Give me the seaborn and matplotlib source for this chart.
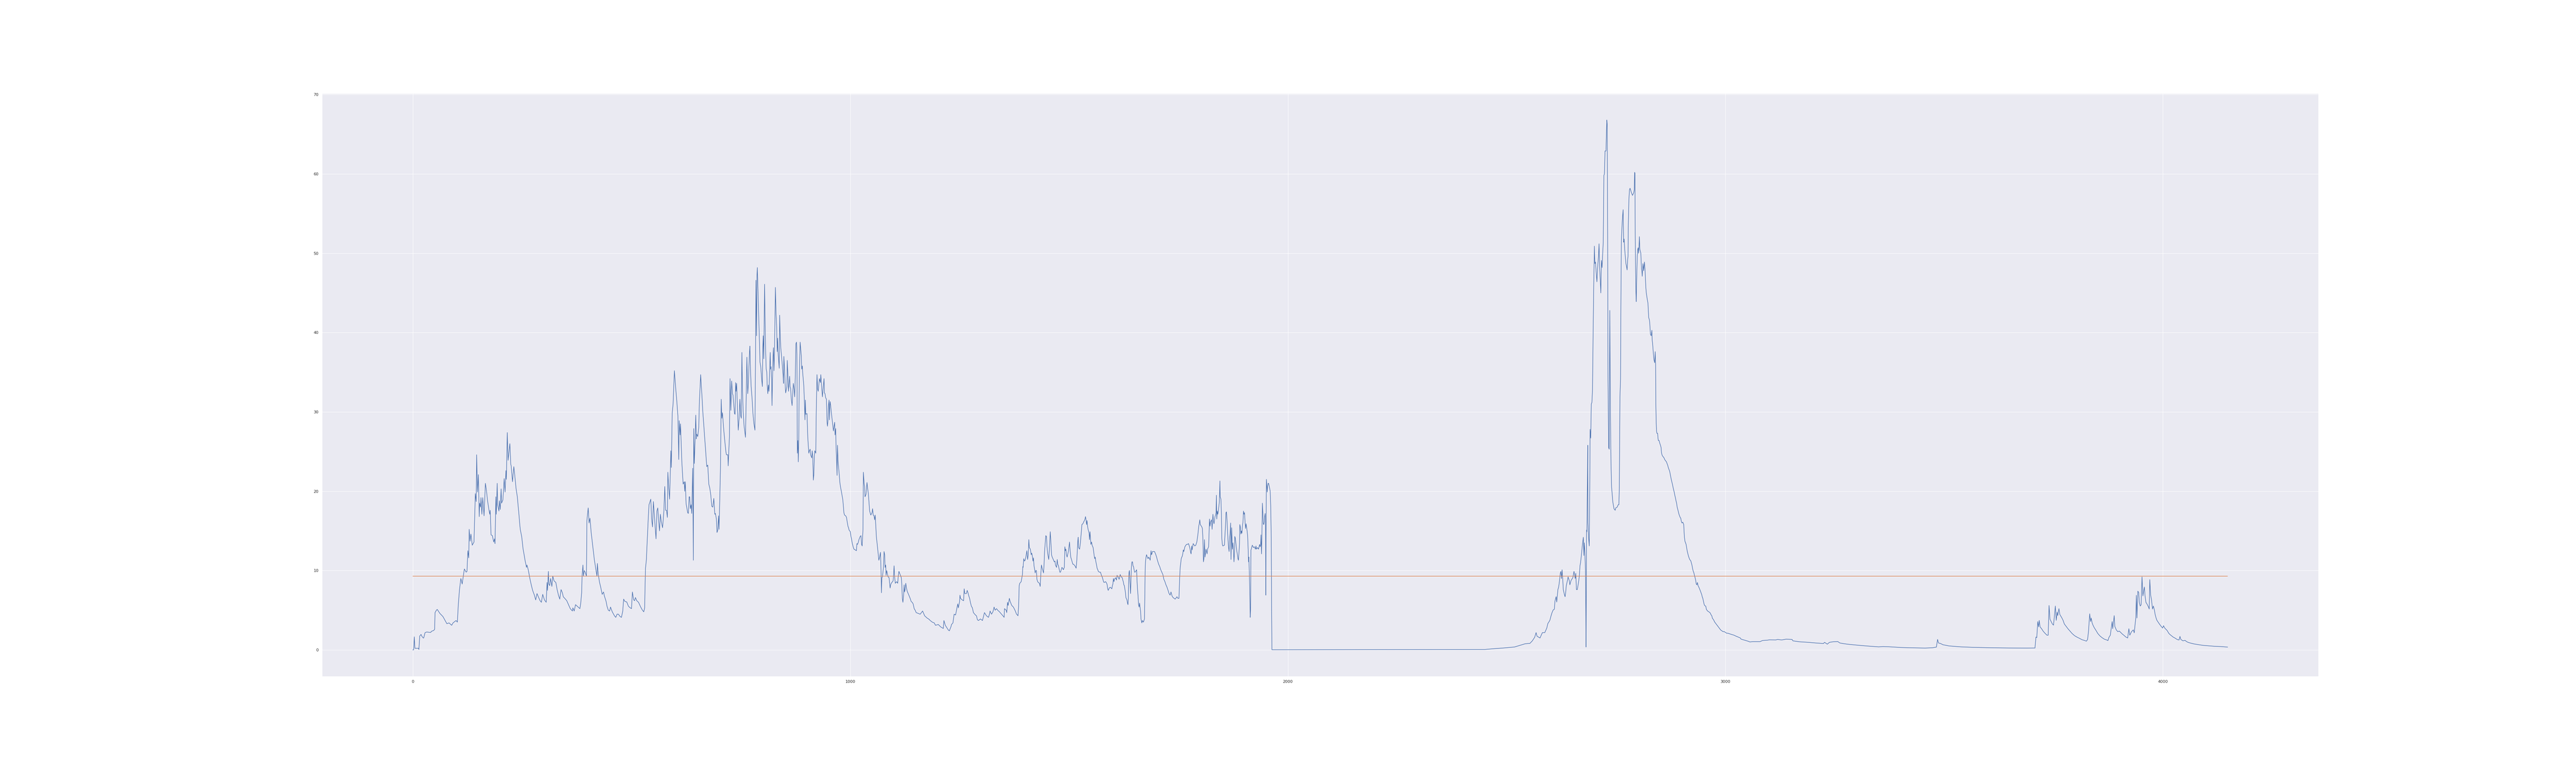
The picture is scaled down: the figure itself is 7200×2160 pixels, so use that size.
import pandas as pd
import seaborn as sns
import matplotlib.pyplot as plt


# Series, split into stretches (index, value)
first_wave = [
    (0, 0.0), (2, 0.0), (3.5, 1.65), (5, 0.2), (13, 0.2), (14, 0.05), (16, 1.75), (19, 1.95),
    (21, 1.7), (24, 1.5), (25, 1.5), (28, 2.15), (29, 2.2), (32, 2.25), (41, 2.2), (43, 2.35),
    (48, 2.45), (50, 2.6), (51, 4.7), (54, 5.0), (56, 5.1), (62, 4.6), (69, 4.2), (73, 3.8),
    (78, 3.3), (83, 3.4), (89, 3.1), (92, 3.4), (99, 3.7), (102, 3.5), (104, 5.6), (107, 7.7),
    (110, 9.0), (113, 8.3), (115, 9.1), (118, 10.2), (122, 9.8), (124, 9.9), (126, 12.5),
    (128, 11.6), (129, 15.2), (131, 13.7), (133, 14.6), (136, 13.2), (140, 13.6), (143, 19.7),
    (145, 18.7), (146, 24.6), (148, 19.9), (150, 22.1), (152, 16.8), (153, 18.5), (155, 18.0),
    (156, 19.2), (158, 17.1), (160, 19.2), (163, 16.9), (166, 21.0), (168, 20.3), (171, 18.8),
    (174, 17.7), (176, 17.1), (177, 17.6), (179, 14.5), (182, 14.4), (185, 13.6), (187, 14.0),
    (188, 13.4), (190, 19.3), (191, 17.1), (193, 21.0), (194, 18.3), (197, 17.5), (198, 18.8),
    (200, 17.7), (202, 20.3), (203, 18.5), (206, 18.9), (209, 21.6), (211, 19.9), (213, 22.6),
    (214, 21.5), (216, 27.4), (218, 23.9), (220, 25.0), (222, 26.0), (224, 23.4), (225, 23.2),
    (228, 21.2), (231, 23.1), (233, 22.1), (236, 20.4), (239, 19.3), (242, 17.5), (245, 15.6),
    (246, 15.1), (249, 14.3), (252, 12.8), (257, 11.2), (260, 10.4), (261, 10.7), (264, 10.1),
    (267, 9.2), (270, 8.4), (274, 7.5), (278, 6.9), (281, 6.3), (284, 7.1), (287, 6.7),
    (291, 6.2), (294, 6.0), (297, 7.0), (301, 6.3), (305, 6.0), (307, 8.5), (308, 7.5),
    (310, 9.9), (311, 8.3), (313, 8.1), (315, 9.0), (318, 8.0), (320, 9.3), (323, 8.7),
    (327, 8.5), (330, 7.6), (333, 6.9), (336, 6.4), (339, 7.6), (342, 7.2), (344, 6.7),
    (349, 6.4), (352, 6.2), (356, 5.7), (360, 5.2), (365, 4.9), (366, 5.3), (369, 4.9),
    (372, 5.7), (376, 5.5), (382, 5.2), (384, 5.9), (386, 7.2), (387, 9.3), (389, 10.7),
    (390, 9.3), (392, 10.0), (394, 9.8), (397, 9.3), (398, 16.3), (400, 17.4), (401, 17.9),
    (403, 16.0), (405, 16.6), (408, 14.7), (411, 13.3), (415, 11.4), (418, 10.3), (421, 9.3),
    (422, 10.9), (424, 9.5), (427, 8.5), (430, 7.8), (433, 7.0), (436, 7.3), (438, 6.8),
    (442, 6.1), (444, 5.5), (447, 5.0), (450, 4.9), (452, 5.4), (456, 4.8), (461, 4.3),
    (464, 4.1), (467, 4.5), (470, 4.5), (474, 4.2), (477, 4.1), (480, 4.9), (482, 6.4),
    (485, 6.1), (489, 6.05), (493, 5.5), (497, 5.3), (500, 5.2), (502, 7.3), (505, 6.3),
    (507, 6.2), (509, 6.6), (512, 6.2), (516, 6.0), (521, 5.4), (525, 5.0), (528, 4.8),
    (530, 5.3), (531, 8.0), (532, 10.3), (534, 11.4), (536, 13.8), (538, 16.3), (540, 18.3),
    (544, 19.0), (546, 16.5), (548, 15.5), (550, 18.7), (553, 16.3), (556, 14.0), (558, 17.5),
    (560, 17.9), (562, 16.3), (564, 15.0), (566, 17.1), (568, 16.2), (571, 15.4), (574, 17.5),
    (576, 20.6), (578, 17.6), (580, 17.6), (582, 16.7), (583, 22.4), (585, 20.5), (587, 19.0),
    (590, 25.1), (591, 23.0), (593, 29.8),
]

second_wave = [
    (595, 31.0), (598, 35.2), (601, 33.0), (604, 31.0), (606, 29.5), (608, 24.0), (609, 28.9),
    (611, 27.1), (612, 28.5), (615, 23.7), (617, 21.8), (618, 20.9), (620.6, 21.2),
    (621.6, 20.0), (622.9, 21.2), (624.8, 18.4), (628.4, 17.3), (629.8, 17.2), (631.7, 19.3),
    (633, 19.3), (634.4, 17.8), (636.2, 18.3), (637.6, 17.2), (639.9, 22.9), (641.3, 11.3),
    (642.2, 27.9), (643.6, 23.5), (645.4, 26.6), (646.8, 29.6), (648.2, 26.6), (649.1, 27.2),
    (651.4, 26.9), (653.7, 28.1), (655, 31.0), (658, 34.7), (661, 32.0), (663, 30.0),
    (667.4, 26.6), (672, 23.1), (674.3, 23.3), (676.6, 20.9), (678.9, 20.4), (681.2, 19.5),
    (683.5, 18.1), (685.8, 18.0), (688.1, 19.1), (690.4, 17.1),
    (691.7, 17.2), (694.0, 16.5), (695.4, 14.8), (697.2, 15.1), (699.0, 16.9), (700.0, 15.2),
    (701.8, 19.1), (703.2, 22.7), (705.0, 31.6), (706.4, 29.2), (707.8, 29.9), (709.1, 29.0),
    (711.0, 27.6), (713.3, 26.3), (715.6, 25.0), (717.0, 24.6), (720.2, 24.6), (721.0, 23.2),
    (722.5, 25.3), (723.8, 26.9), (725.2, 34.2), (727.0, 30.2), (728.9, 33.9), (730.7, 32.3),
    (732.0, 32.1), (735.3, 29.8), (736.7, 29.7), (738.0, 33.7), (739.0, 32.6), (740.3, 33.6),
    (742.2, 30.2), (744.0, 27.7), (745.9, 29.2), (747.7, 31.6), (749.5, 29.5), (750.9, 29.2),
    (752.3, 37.5), (753.7, 32.6), (755.0, 30.3), (757.3, 28.2), (759.6, 27.2), (760.5, 26.8),
    (762.8, 34.1), (763.7, 36.9), (765.6, 32.3), (767.4, 33.9), (768.3, 35.7), (769.7, 37.6),
    (770.6, 38.3), (772.0, 35.2), (773.4, 33.2), (775.7, 31.6), (777.5, 29.8), (779.8, 28.5),
    (782.1, 27.7), (783.5, 37.3), (784.4, 46.6), (785.8, 39.6), (786.7, 47.2), (787.6, 48.2),
    (789.0, 45.4), (791.7, 40.2), (793.6, 36.3), (795.4, 35.7), (797.3, 34.2), (799.1, 33.2),
    (800.0, 38.0), (801.0, 39.6), (802.3, 36.7), (804.1, 46.1), (805.5, 40.9), (806.4, 38.0),
    (807.8, 35.4), (809.2, 35.0), (810.1, 33.4), (811.5, 32.3), (812.9, 33.4), (814.2, 32.6),
    (817.0, 37.5), (817.9, 35.4), (818.8, 35.7), (820.2, 34.1), (821.1, 30.8), (823.4, 37.0),
    (824.3, 38.1), (825.7, 35.2), (826.6, 37.3), (828.9, 45.7), (830.3, 42.5), (831.7, 40.7),
    (833.0, 37.6), (834.0, 39.3), (834.9, 37.5), (837.6, 35.5), (838.6, 42.2), (840.0, 39.4),
    (841.3, 38.0), (844.5, 36.0), (846.4, 34.7), (847.3, 33.6), (848.2, 37.0), (849.6, 35.5),
    (851.0, 33.6), (852.3, 32.4), (855.1, 33.2), (856.0, 36.5), (857.4, 34.7), (858.7, 32.6),
    (861.5, 34.5), (862.4, 33.2), (863.8, 32.9), (865.2, 31.6), (867.0, 30.8), (869.8, 33.6),
    (871.6, 32.9), (873.0, 31.9), (874.4, 34.7), (875.7, 38.6), (877.1, 38.8), (878.0, 37.3),
    (879.0, 24.8), (880.3, 26.4), (881.2, 23.7), (882.2, 26.4), (883.1, 32.4), (884.5, 36.7),
    (885.4, 38.8), (888.1, 37.1), (889.0, 35.4), (890.4, 35.8), (891.3, 34.9), (893.6, 33.4),
    (895.0, 31.6), (896.4, 29.0), (897.3, 31.5), (898.2, 29.7), (901.0, 29.8), (902.8, 26.9),
    (905.1, 24.8), (906.5, 25.1), (908.3, 25.3), (909.2, 24.6), (912.0, 24.2), (912.9, 25.1),
    (914.3, 24.3), (915.6, 21.4), (916.6, 22.0), (918.0, 24.5), (918.9, 25.1), (921.2, 24.8),
    (922.1, 29.5), (923.9, 34.7), (925.3, 32.9), (926.7, 32.6), (929.4, 34.2), (931.7, 33.7),
    (932.6, 34.7), (935.0, 32.9), (936.3, 31.9), (937.7, 32.8), (940.0, 34.2), (940.9, 32.4),
    (942.3, 32.3), (943.6, 31.8), (945.5, 31.6), (946.9, 28.7), (947.8, 28.2), (949.2, 29.0),
    (950.1, 30.8), (951.5, 31.5), (952.4, 29.0), (953.3, 30.8), (954.2, 31.3), (957.0, 29.8),
    (958.8, 28.9), (960.2, 28.2), (961.5, 27.6), (962.9, 28.2), (964.3, 28.7), (965.2, 27.1),
    (966.6, 27.9), (967.5, 25.5), (968.9, 23.7), (969.8, 22.0), (970.7, 25.8), (972.1, 23.8),
    (974.9, 22.0), (976.2, 21.1), (978.1, 20.4), (979.9, 19.9), (982.7, 19.0), (984.0, 18.3),
    (985.4, 17.3), (986.8, 17.0), (989.5, 16.9), (991.4, 16.7), (992.8, 16.2), (994.6, 15.6),
    (996.0, 15.4), (997.3, 15.1), (1000.1, 14.9), (1001.5, 14.3), (1002.8, 14.0),
    (1004.7, 13.4), (1006.5, 13.0), (1008.4, 12.7), (1011.6, 12.6), (1013.9, 12.5),
    (1015.2, 13.4), (1016.6, 13.3), (1018.5, 13.6), (1019.8, 13.9), (1022.6, 14.3),
    (1024.4, 14.4), (1025.8, 13.3), (1027.2, 13.1), (1029.0, 15.2), (1029.9, 22.4),
    (1030.8, 21.7), (1031.8, 20.9), (1032.7, 20.6), (1033.6, 19.3), (1035.9, 19.6),
    (1038.2, 21.1), (1039.6, 20.4), (1041.4, 19.6), (1042.8, 18.6), (1044.2, 17.5),
    (1046.9, 17.0), (1049.7, 17.3), (1051.0, 17.8), (1052.4, 17.0), (1054.3, 16.9),
    (1055.6, 16.4), (1057.0, 17.0), (1059.8, 14.1), (1061.6, 13.3), (1063.4, 12.3),
    (1065.3, 11.3), (1067.1, 11.7), (1069.0, 12.3), (1070.3, 10.0), (1071.2, 7.2),
    (1072.2, 9.1), (1073.5, 9.2), (1075.8, 10.4), (1077.2, 12.4), (1078.6, 12.0),
    (1079.5, 10.4), (1080.9, 10.7), (1081.8, 9.4), (1083.2, 10.0), (1086.4, 9.2),
    (1088.7, 9.1), (1091.0, 7.8), (1092.3, 8.2), (1093.7, 8.4), (1097.9, 8.7), (1099.2, 9.7),
    (1100.1, 10.6), (1101.5, 9.1), (1102.9, 8.4), (1106.1, 8.6), (1108.4, 8.4), (1109.8, 9.4),
    (1111.2, 9.9), (1113.9, 9.5), (1116.7, 9.1), (1117.6, 8.4), (1119.0, 6.5), (1120.3, 6.0),
    (1121.7, 6.8), (1123.1, 8.2), (1124.0, 7.3), (1125.4, 7.6), (1126.8, 8.4), (1128.1, 7.9),
    (1130.0, 7.4), (1132.3, 7.1), (1134.6, 6.8), (1136.8, 6.5), (1139.2, 6.1), (1141.4, 6.0),
    (1143.7, 5.8), (1146.0, 5.2), (1148.3, 5.0), (1150.6, 4.7), (1155.2, 4.6), (1159.8, 4.5),
    (1165.3, 4.9), (1169.9, 4.3), (1175.8, 4.0), (1179.0, 3.9), (1182.8, 3.7), (1187.3, 3.5),
    (1191.9, 3.4), (1194.7, 3.1), (1201.1, 3.2), (1206.6, 2.9), (1212.6, 2.7), (1214.0, 3.7),
    (1217.2, 3.1), (1221.8, 2.7), (1224.1, 2.5), (1226.4, 2.4), (1230.0, 2.9), (1231.4, 3.2),
    (1234.6, 3.4), (1237.4, 4.5), (1240.6, 4.4), (1245.6, 5.8), (1247.0, 5.3), (1249.8, 6.1),
    (1250.7, 6.9), (1252.0, 6.5), (1255.7, 6.3), (1259.0, 6.2), (1260.3, 7.7), (1261.7, 7.1),
    (1265.4, 7.1), (1267.2, 7.5), (1269.0, 7.2), (1270.9, 6.8), (1272.7, 6.5), (1274.5, 6.0),
    (1276.8, 5.5), (1279.1, 5.3), (1281.4, 4.7), (1286.0, 4.4), (1288.3, 4.3), (1290.6, 3.8),
    (1292.9, 3.7), (1297.5, 3.9), (1302.1, 3.7), (1306.7, 4.7), (1309.0, 4.5), (1311.2, 4.3),
    (1315.8, 4.1), (1318.1, 4.5), (1319.5, 4.9), (1322.8, 4.5), (1326.0, 4.8), (1328.7, 5.4),
    (1331.0, 5.0), (1334.2, 5.2), (1337.0, 5.0), (1341.0, 4.8), (1345.7, 4.5), (1350.3, 4.2),
    (1351.6, 4.1), (1352.5, 5.2), (1356.2, 5.0), (1357.6, 4.7), (1359.4, 6.0), (1360.8, 5.6),
    (1363.6, 6.5), (1365.4, 6.1), (1369.1, 5.6), (1372.7, 5.4), (1376.4, 5.0), (1380.0, 4.5),
    (1381.9, 4.4), (1383.3, 4.3), (1384.7, 5.5), (1386.0, 8.1), (1387.4, 8.4), (1390.6, 8.6),
    (1393.4, 9.5), (1394.3, 10.5),
]

third_wave = [
    (1395.0, 10.4), (1396.5, 11.5), (1398.1, 11.2), (1399.7, 11.3), (1401.2, 11.7),
    (1403.6, 12.5), (1405.2, 11.4), (1406.8, 12.0), (1408.0, 13.9), (1409.2, 12.9),
    (1411.5, 12.7), (1413.5, 12.0), (1414.7, 12.2), (1415.9, 11.9), (1417.5, 11.2),
    (1418.7, 11.6), (1419.9, 10.6), (1421.5, 10.1), (1422.6, 9.7), (1423.8, 10.0),
    (1425.4, 10.0), (1426.6, 8.9), (1428.2, 8.6), (1429.8, 8.5), (1432.2, 8.4), (1434.1, 8.0),
    (1435.7, 9.8), (1436.9, 10.7), (1438.5, 10.3), (1441.7, 9.7), (1442.9, 10.8),
    (1444.0, 12.4), (1445.6, 13.5), (1446.8, 14.4), (1448.4, 14.3), (1449.6, 13.0),
    (1451.2, 12.1), (1453.6, 11.4), (1454.7, 12.4), (1457.1, 14.9), (1458.3, 13.8),
    (1459.9, 12.0), (1461.5, 11.7), (1464.7, 11.3), (1466.2, 11.1), (1467.8, 11.2),
    (1469.0, 10.7), (1471.4, 10.4), (1473.0, 11.4), (1474.2, 10.8), (1475.8, 10.6),
    (1477.3, 10.2), (1478.9, 9.8), (1480.5, 9.8), (1483.7, 10.4), (1485.3, 10.3),
    (1486.9, 10.1), (1489.2, 10.4), (1490.4, 13.0), (1491.6, 12.5), (1492.8, 12.7),
    (1494.0, 12.0), (1495.6, 11.7), (1497.2, 12.1), (1498.7, 12.5), (1501.1, 13.6),
    (1502.3, 12.6), (1503.9, 11.7), (1505.5, 11.4), (1507.1, 11.1), (1508.7, 10.8),
    (1510.2, 10.8), (1513.4, 10.6), (1516.2, 10.3), (1517.8, 11.4), (1519.0, 12.6),
    (1520.1, 13.8), (1520.9, 14.2), (1521.7, 12.9), (1524.1, 12.7), (1526.1, 13.6),
    (1528.1, 14.9), (1529.3, 15.8), (1531.6, 15.9), (1534.0, 16.2), (1535.2, 16.3),
    (1536.4, 16.5), (1537.6, 16.8), (1538.8, 16.4), (1540.0, 15.8), (1541.1, 16.3),
    (1542.3, 15.6), (1543.5, 15.2), (1545.9, 14.7), (1546.7, 13.9), (1547.9, 14.9),
    (1549.9, 13.3), (1551.5, 13.6), (1552.7, 13.2), (1555.0, 12.9), (1556.2, 12.4),
    (1557.4, 11.9), (1558.6, 11.5), (1559.8, 11.7), (1561.0, 11.2), (1562.5, 10.8),
    (1564.1, 10.3), (1565.7, 10.1), (1566.9, 9.9), (1569.3, 9.8), (1571.7, 9.8),
    (1574.1, 9.4), (1576.4, 9.1), (1578.8, 8.6), (1580.0, 8.5), (1583.6, 8.6), (1586.0, 8.4),
    (1587.1, 8.2), (1588.3, 7.7), (1589.5, 7.5), (1591.9, 7.8), (1594.3, 7.9), (1597.8, 7.7),
    (1599.0, 8.1), (1600.2, 8.3), (1601.4, 9.0), (1602.6, 8.6), (1603.8, 8.9), (1606.2, 9.1),
    (1608.5, 8.8), (1609.7, 9.4), (1612.1, 9.2), (1614.5, 8.9), (1615.7, 9.2), (1616.9, 9.5),
    (1619.2, 9.2), (1621.6, 9.1), (1622.8, 8.8), (1624.0, 8.6), (1625.2, 8.2), (1626.4, 8.1),
    (1628.7, 7.3), (1629.9, 6.6), (1632.3, 6.3), (1633.5, 5.9), (1634.7, 5.7), (1635.5, 6.5),
    (1636.3, 8.9), (1637.1, 9.8), (1637.9, 10.0), (1638.7, 9.2), (1639.9, 7.9), (1640.6, 7.1),
    (1641.4, 8.6), (1642.2, 10.0), (1643.0, 10.8), (1643.8, 11.1), (1645.0, 11.1),
    (1646.2, 10.6), (1647.4, 10.5), (1648.6, 10.1), (1649.8, 9.8), (1651.0, 9.8),
    (1653.3, 10.0), (1654.5, 10.1), (1655.3, 8.8), (1656.5, 7.6), (1657.7, 6.8), (1658.9, 5.7),
    (1660.1, 5.4), (1661.2, 5.9), (1663.6, 4.8), (1664.4, 3.9), (1666.4, 3.4), (1667.6, 3.7),
    (1670.0, 3.5), (1672.3, 3.9), (1673.1, 6.5), (1673.9, 9.8), (1674.7, 11.1),
    (1675.9, 11.7), (1677.1, 12.0), (1679.5, 11.6), (1680.7, 11.5), (1681.9, 11.7),
    (1684.2, 11.5), (1685.4, 11.3), (1687.4, 12.5), (1688.2, 12.0), (1689.4, 12.1),
    (1690.6, 12.4), (1692.9, 12.4), (1695.3, 12.4), (1697.7, 12.1), (1698.9, 11.9),
    (1700.1, 11.7), (1702.5, 11.2), (1704.8, 10.8), (1707.2, 10.5), (1709.6, 10.1),
    (1712.0, 9.8), (1714.4, 9.5), (1716.7, 8.9), (1719.1, 8.6), (1721.5, 8.2), (1723.9, 7.9),
    (1726.3, 7.5), (1728.6, 7.1), (1731.0, 6.9), (1733.0, 7.3), (1735.4, 6.8), (1737.7, 6.6),
    (1740.1, 6.5), (1742.5, 6.4), (1745.3, 6.6), (1746.5, 6.7), (1748.8, 6.5), (1751.2, 6.5),
    (1752.0, 7.7), (1752.8, 9.1), (1754.0, 10.4), (1755.2, 10.9), (1756.4, 11.5),
    (1757.6, 11.7), (1758.7, 11.8), (1759.9, 12.1), (1761.1, 12.6), (1762.3, 12.4),
    (1764.7, 13.0), (1765.9, 13.1), (1768.3, 13.3), (1770.6, 13.3), (1773.0, 13.4),
    (1775.4, 13.0), (1776.6, 12.7), (1777.8, 12.3), (1779.0, 12.1), (1780.2, 13.1),
    (1781.3, 12.6), (1782.5, 13.0), (1783.7, 13.4), (1784.9, 13.3), (1787.3, 13.1),
    (1789.7, 13.2), (1792.0, 13.6), (1794.4, 14.5), (1796.4, 15.6), (1797.6, 15.9),
    (1798.8, 16.4), (1800.0, 15.8), (1802.3, 15.6), (1803.5, 15.5), (1804.7, 15.3),
    (1805.9, 14.1), (1807.1, 11.1), (1808.3, 11.5), (1809.5, 13.9), (1810.7, 11.7),
    (1813.1, 12.7), (1815.4, 12.1), (1816.6, 12.7), (1819.0, 13.0), (1821.0, 16.5),
    (1822.2, 15.6), (1823.3, 16.1), (1825.7, 16.4), (1826.9, 15.2), (1828.1, 16.4),
    (1828.9, 17.1), (1830.1, 16.2), (1831.3, 15.9), (1833.6, 16.8), (1834.8, 17.0),
    (1836.0, 17.3), (1836.8, 19.5), (1837.6, 16.5), (1838.8, 17.5), (1840.0, 17.1),
    (1841.2, 17.5), (1843.6, 18.7), (1844.8, 21.3), (1845.5, 19.3), (1847.1, 19.0),
    (1848.3, 17.1), (1849.1, 14.1), (1850.3, 13.3), (1851.5, 13.1), (1855.1, 13.2),
    (1856.3, 14.4), (1857.5, 15.6), (1858.6, 17.3), (1859.8, 17.4), (1861.0, 16.4),
    (1862.2, 14.9), (1863.4, 13.8), (1864.6, 12.9), (1865.8, 12.4), (1866.9, 14.1),
    (1868.1, 14.7), (1869.3, 16.0), (1870.1, 11.4), (1871.7, 15.4), (1872.5, 14.1),
    (1873.3, 12.7), (1874.5, 13.5), (1875.7, 12.6), (1876.9, 11.1), (1878.1, 12.3),
    (1878.8, 14.3), (1880.0, 14.1), (1881.2, 13.5), (1882.4, 12.9), (1883.6, 12.4),
    (1884.8, 12.0), (1886.0, 11.5), (1887.2, 11.3), (1889.5, 13.3), (1890.3, 15.8),
    (1891.5, 15.5), (1892.7, 14.6), (1893.9, 15.0), (1895.1, 14.7), (1896.3, 15.7),
    (1897.5, 16.1), (1898.7, 17.5), (1899.9, 17.1), (1901.0, 17.3), (1902.2, 16.2),
    (1903.4, 15.3), (1904.6, 15.9), (1907.0, 15.0), (1908.2, 14.3), (1909.4, 12.6),
    (1910.2, 11.1), (1911.0, 11.7), (1912.1, 9.5), (1913.3, 6.5), (1914.1, 4.1),
    (1914.9, 5.0), (1915.7, 12.6), (1916.5, 12.7), (1917.7, 13.0), (1918.9, 13.2),
    (1921.3, 12.9), (1923.6, 13.0), (1926.0, 12.7), (1927.2, 13.1), (1928.4, 12.7),
    (1930.8, 12.9), (1933.1, 12.7), (1935.5, 13.3), (1936.7, 13.0), (1937.9, 13.2),
    (1938.7, 14.5), (1939.9, 12.1), (1940.7, 14.1), (1941.9, 18.5), (1943.1, 17.1),
    (1943.9, 15.9), (1945.1, 15.8), (1946.2, 16.1), (1947.0, 16.8), (1948.2, 17.2),
    (1949.0, 16.1), (1949.8, 6.9), (1950.2, 14.1), (1951.0, 21.5), (1952.2, 20.6),
    (1953.0, 19.9), (1953.8, 20.6), (1955.0, 21.0), (1956.1, 21.0), (1957.3, 20.7),
    (1959.7, 20.0), (1960.9, 18.2), (1962.1, 14.1), (1962.9, 5.0), (1963.7, 0.02),
]

quiet_stretch = [(2100, 0.03), (2300, 0.04), (2450, 0.05)]

big_spike = [
    (2469, 0.14), (2490.6, 0.23), (2517.8, 0.36), (2531.5, 0.59), (2542.4, 0.77),
    (2553.3, 0.82), (2558.7, 1.13), (2564.2, 1.59), (2567.4, 2.18), (2569.6, 1.72),
    (2576.4, 1.5), (2579.2, 1.86), (2581.9, 2.18), (2587.3, 2.18), (2592.0, 2.77),
    (2594.2, 3.31), (2596.9, 3.54), (2599.1, 3.76), (2601.2, 4.22), (2603.7, 4.67),
    (2606.4, 5.03), (2609.1, 5.12), (2610.5, 6.12), (2612.1, 6.49), (2613.2, 6.71),
    (2614.6, 6.03), (2617.3, 7.62), (2618.7, 7.85), (2620.0, 8.3), (2621.4, 8.98),
    (2622.8, 9.66), (2624.1, 9.89), (2625.5, 8.98), (2626.9, 10.1), (2628.2, 9.0),
    (2629.6, 7.6), (2632.3, 6.94), (2633.7, 6.7), (2635.0, 7.2), (2636.4, 8.1),
    (2639.1, 8.75), (2640.5, 9.2), (2643.2, 8.75), (2644.6, 8.2), (2647.3, 8.75),
    (2651.4, 9.1), (2654.1, 9.9), (2656.8, 9.0), (2658.2, 9.66), (2659.6, 7.6),
    (2661.7, 7.6), (2663.7, 8.3), (2665.0, 8.75), (2666.4, 9.4), (2667.7, 10.6),
    (2669.1, 11.0), (2670.5, 11.7), (2671.8, 12.4), (2673.2, 13.2), (2675.4, 14.2),
    (2676.7, 11.9), (2677.6, 13.5), (2678.6, 12.6), (2680.3, 10.1), (2681.1, 4.67),
    (2681.6, 0.36), (2682.2, 6.94), (2682.7, 15.1), (2683.5, 14.9), (2684.6, 20.5),
    (2685.5, 25.8), (2686.0, 16.0), (2686.8, 14.9), (2687.6, 14.0), (2689.0, 13.1),
    (2690.1, 20.5), (2690.9, 27.8), (2692.3, 26.7), (2693.6, 31.0), (2695.0, 31.2),
    (2696.4, 32.8), (2697.7, 39.6), (2699.1, 45.9), (2699.9, 48.2), (2700.7, 50.9),
    (2701.8, 48.7), (2703.2, 48.9), (2704.5, 47.8), (2706.4, 46.4), (2708.1, 48.2),
    (2710.0, 49.6), (2711.3, 51.2), (2712.7, 48.2), (2715.4, 45.0), (2716.8, 49.1),
    (2718.2, 48.2), (2720.9, 51.4), (2722.3, 59.8), (2723.6, 60.0), (2725.0, 62.9),
    (2727.2, 62.9), (2728.3, 65.4), (2729.1, 66.8), (2729.9, 66.3), (2731.0, 52.3),
    (2731.8, 34.1), (2733.2, 25.5), (2734.5, 25.3),
    (2735.9, 42.8), (2737.3, 29.7), (2738.6, 23.7), (2740.0, 20.5), (2742.7, 18.7),
    (2745.4, 17.8), (2748.2, 17.6), (2749.5, 17.9), (2752.8, 18.0), (2755.0, 18.3),
    (2756.6, 18.3), (2757.7, 20.5), (2759.1, 31.9), (2760.4, 34.1), (2761.2, 43.2),
    (2762.3, 51.4), (2764.0, 53.7), (2765.3, 54.8), (2766.4, 55.5), (2767.5, 51.4),
    (2768.6, 51.8), (2770.0, 50.5), (2771.3, 49.6), (2772.7, 48.7), (2774.0, 48.4),
    (2775.4, 47.9), (2776.8, 49.3), (2777.6, 49.6), (2778.1, 53.2), (2779.5, 56.8),
    (2780.9, 58.0), (2782.2, 58.2), (2785.0, 57.7), (2786.3, 57.5), (2787.7, 57.3),
    (2790.4, 57.6), (2791.8, 58.0), (2792.6, 60.2), (2793.4, 60.1), (2794.0, 52.3),
    (2794.8, 47.8), (2795.6, 45.0), (2796.4, 43.9), (2797.2, 46.4), (2798.6, 49.6),
    (2799.7, 50.5), (2800.8, 50.7), (2801.6, 50.0), (2802.7, 50.9), (2803.5, 52.1),
    (2804.6, 50.5), (2806.8, 50.0), (2807.6, 48.9), (2808.4, 48.0), (2809.2, 47.8),
    (2810.0, 47.1), (2811.7, 48.7), (2813.3, 47.8), (2815.0, 48.9), (2816.6, 47.8),
    (2818.2, 45.7), (2819.3, 45.0), (2820.4, 44.6), (2821.8, 44.1), (2823.1, 43.7),
    (2824.8, 41.9), (2826.4, 41.6), (2827.2, 41.2), (2828.8, 39.8), (2830.5, 39.6),
    (2832.1, 40.3), (2832.7, 39.1), (2833.5, 38.7), (2834.3, 38.2), (2835.1, 37.6),
    (2835.9, 37.1), (2836.7, 36.6), (2838.4, 36.2), (2839.7, 37.6), (2840.6, 36.0),
    (2841.1, 31.0), (2841.9, 28.7), (2842.7, 27.6), (2843.6, 27.3), (2845.2, 27.3),
    (2846.0, 26.7), (2846.8, 26.4), (2848.5, 26.4), (2849.3, 26.2), (2850.4, 26.0),
    (2851.7, 25.8), (2853.1, 25.5), (2853.9, 24.9), (2854.7, 24.7), (2855.8, 24.5),
    (2857.2, 24.4), (2858.5, 24.3), (2859.9, 24.2), (2861.3, 24.0), (2862.6, 23.9),
    (2864.0, 23.8), (2865.4, 23.7), (2866.7, 23.5), (2868.1, 23.3), (2869.5, 23.0),
    (2870.8, 22.8), (2872.2, 22.6), (2873.5, 22.3), (2874.9, 21.9), (2876.3, 21.5),
    (2877.6, 21.2), (2879.0, 20.9), (2880.4, 20.5), (2881.7, 20.2), (2883.1, 19.9),
    (2884.4, 19.5), (2885.8, 19.2), (2887.2, 18.8), (2888.5, 18.5), (2889.9, 18.0),
    (2891.3, 17.7), (2892.6, 17.4), (2894.0, 17.1), (2895.3, 16.9), (2896.7, 16.7),
    (2898.1, 16.6), (2899.4, 16.2), (2900.8, 16.0), (2902.7, 16.1), (2904.9, 15.8),
    (2905.7, 14.9), (2906.5, 14.2), (2907.6, 13.7), (2909.0, 13.5), (2910.3, 13.3),
    (2911.7, 12.8), (2913.1, 12.4), (2914.4, 12.1), (2915.8, 11.8), (2917.1, 11.6),
    (2918.5, 11.4), (2919.9, 11.3), (2921.2, 11.2), (2922.6, 10.9), (2924.0, 10.6),
    (2925.3, 10.2), (2926.7, 9.9), (2928.1, 9.7), (2929.4, 9.4), (2930.8, 9.1),
    (2932.1, 8.8), (2933.5, 8.3), (2934.9, 8.2), (2936.2, 8.5), (2937.6, 8.1),
    (2940.3, 7.8), (2941.7, 7.6), (2943.1, 7.4), (2945.8, 7.0), (2947.1, 6.7),
    (2948.5, 6.5), (2951.2, 5.8), (2952.6, 5.6), (2955.3, 5.5), (2956.7, 5.1),
    (2959.4, 4.9), (2962.1, 4.8), (2964.8, 4.7), (2967.6, 4.4), (2969.0, 4.3),
    (2970.3, 4.0), (2973.0, 3.8), (2975.7, 3.5), (2978.5, 3.3), (2981.2, 3.1),
    (2983.9, 2.9), (2986.7, 2.7), (2989.4, 2.5), (2992.1, 2.4), (2994.8, 2.3),
    (2997.5, 2.3), (3000.3, 2.2), (3003.0, 2.1), (3005.7, 2.1), (3011.2, 2.0),
    (3013.9, 1.95), (3019.4, 1.86), (3024.8, 1.72), (3030.3, 1.59), (3034.3, 1.5),
    (3035.7, 1.36), (3041.2, 1.27), (3046.6, 1.18), (3052.1, 1.09), (3056.1, 1.0),
    (3063.0, 1.04), (3068.4, 1.04), (3079.3, 1.04), (3084.8, 1.18), (3095.7, 1.22),
    (3101.1, 1.27),
]

tail = [
    (3114.8, 1.25), (3119.6, 1.32), (3128.5, 1.25), (3138.7, 1.35), (3152.4, 1.32),
    (3154.4, 1.14), (3169.5, 1.02), (3190.0, 0.95), (3207.0, 0.87), (3224.1, 0.8),
    (3226.8, 0.95), (3233.0, 0.72), (3237.8, 0.95), (3246.0, 1.02), (3256.9, 1.05),
    (3261.7, 0.87), (3268.5, 0.8), (3278.8, 0.72), (3306.1, 0.57), (3333.4, 0.45),
    (3350.5, 0.38), (3360.7, 0.42), (3374.4, 0.39), (3401.7, 0.3), (3422.2, 0.27),
    (3456.4, 0.23), (3473.4, 0.27), (3482.3, 0.35), (3483.7, 0.87), (3485.0, 1.32),
    (3487.1, 0.87), (3491.9, 0.8), (3497.3, 0.65), (3511.0, 0.5), (3538.3, 0.38),
    (3565.6, 0.32), (3606.6, 0.27), (3647.6, 0.24), (3688.6, 0.23), (3707.7, 0.24),
    (3709.8, 1.62), (3711.8, 1.55), (3713.9, 3.57), (3715.9, 2.9), (3717.3, 3.72),
    (3719.3, 2.9), (3722.7, 2.67), (3726.2, 2.37), (3729.6, 2.15), (3735.0, 1.85),
    (3737.8, 1.85), (3739.8, 5.6), (3741.9, 3.87), (3744.6, 3.57), (3747.3, 3.27),
    (3750.0, 3.12), (3754.2, 5.53), (3756.2, 3.72), (3758.3, 4.77), (3759.6, 4.32),
    (3762.4, 5.2), (3764.4, 4.47), (3769.2, 4.02), (3771.9, 3.72), (3774.7, 3.27),
    (3778.8, 2.97), (3782.9, 2.67), (3787.6, 2.37), (3792.4, 2.07), (3797.9, 1.8),
    (3803.3, 1.62), (3808.8, 1.47), (3814.9, 1.29), (3821.8, 1.17), (3825.2, 1.1),
    (3827.9, 1.32), (3830.0, 2.37), (3832.7, 4.55), (3834.7, 3.57), (3836.1, 4.02),
    (3838.2, 3.42), (3840.2, 3.12), (3842.9, 2.82), (3847.1, 2.45), (3851.2, 2.07),
    (3855.9, 1.77), (3860.7, 1.55), (3866.2, 1.35), (3871.6, 1.25), (3874.4, 1.17),
    (3876.4, 1.55), (3879.8, 1.85), (3884.0, 3.57), (3885.3, 2.67), (3888.7, 4.32),
    (3890.1, 2.97), (3893.5, 2.52), (3896.9, 2.3), (3900.3, 2.37), (3904.5, 2.15),
    (3907.2, 2.0), (3910.6, 1.85), (3915.4, 1.62), (3919.5, 1.5), (3920.8, 2.07),
    (3922.2, 2.67), (3924.3, 1.85), (3928.3, 2.3), (3932.4, 2.52), (3934.5, 2.15),
    (3938.0, 4.02), (3939.4, 6.88), (3940.7, 4.02), (3942.7, 7.4), (3944.7, 7.25),
    (3946.1, 5.98), (3948.2, 5.53), (3950.2, 5.68), (3952.3, 9.2), (3954.3, 6.8),
    (3956.4, 7.55), (3957.7, 7.93), (3959.1, 6.88), (3961.2, 5.98), (3963.2, 5.83),
    (3967.3, 5.38), (3968.7, 5.15), (3970.0, 8.86), (3972.1, 6.88), (3974.1, 6.28),
    (3976.2, 5.15), (3978.2, 5.53), (3980.3, 5.08), (3982.3, 4.47), (3984.4, 4.02),
    (3986.4, 3.72), (3989.1, 3.5), (3991.9, 3.27), (3993.9, 3.12), (3996.0, 2.97),
    (3999.4, 2.75), (4001.4, 3.05), (4004.2, 2.75), (4009.6, 2.45), (4013.7, 2.07),
    (4016.5, 1.92), (4019.9, 1.77), (4023.3, 1.62), (4026.7, 1.52), (4030.1, 1.4),
    (4033.5, 1.29), (4036.9, 1.25), (4039.0, 1.7), (4041.0, 1.32), (4045.8, 1.14),
    (4050.6, 1.2), (4054.0, 1.05), (4057.5, 0.95), (4064.3, 0.84), (4071.1, 0.75),
    (4077.9, 0.69), (4084.8, 0.63), (4091.6, 0.57), (4098.4, 0.54), (4105.3, 0.51),
    (4112.1, 0.48), (4118.9, 0.45), (4132.6, 0.42), (4139.4, 0.39), (4148.0, 0.35),
]

# Mean level shown as the flat orange line
mean_value = 9.28
mean_span = [0, 4148]

x_ticks = [0, 1000, 2000, 3000, 4000]
y_ticks = [0, 10, 20, 30, 40, 50, 60, 70]


def build_series():
    parts = [first_wave, second_wave, third_wave, quiet_stretch, big_spike, tail]
    frames = [pd.DataFrame(p, columns=["idx", "value"]) for p in parts]
    return pd.concat(frames, ignore_index=True)


def main():
    sns.set_theme(style="darkgrid")
    series = build_series()
    mean_df = pd.DataFrame({"idx": mean_span, "value": [mean_value] * len(mean_span)})

    fig, ax = plt.subplots(figsize=(100, 30), dpi=72)
    fig.subplots_adjust(left=0.125, right=0.9, bottom=0.125, top=0.879)

    sns.lineplot(data=series, x="idx", y="value", ax=ax, color="C0",
                 estimator=None, sort=False, linewidth=1.5)
    sns.lineplot(data=mean_df, x="idx", y="value", ax=ax, color="C1",
                 estimator=None, linewidth=1.5)

    ax.set_xticks(x_ticks)
    ax.set_yticks(y_ticks)
    ax.set_xlabel("")
    ax.set_ylabel("")

    fig.savefig("out.png", dpi=72)
    plt.close(fig)


if __name__ == "__main__":
    main()
